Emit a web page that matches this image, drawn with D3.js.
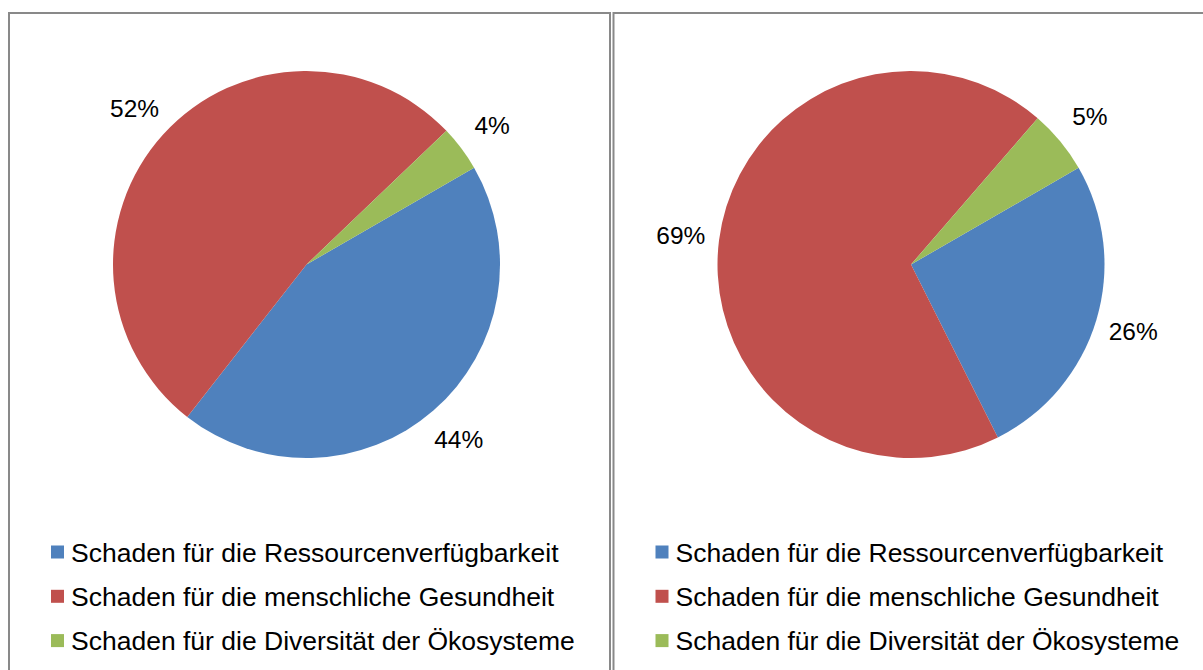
<!DOCTYPE html>
<html>
<head>
<meta charset="utf-8">
<script src="https://cdn.jsdelivr.net/npm/d3@7"></script>
<style>
  body { margin: 0; background: #fff; }
  svg { display: block; font-family: "Liberation Sans", Arial, sans-serif; }
</style>
</head>
<body>
<div class="chart"></div>
<script>
// categories (legend order = slice order)
var categories = ["Schaden für die Ressourcenverfügbarkeit",
                  "Schaden für die menschliche Gesundheit",
                  "Schaden für die Diversität der Ökosysteme"];
var colors = ["#4F81BD", "#C0504D", "#9BBB59"];

// shares in percent
var leftValues  = [43.9, 52.3, 3.8];
var rightValues = [25.9, 68.7, 5.3];

var firstSliceAngle = 60;   // degrees, clockwise from 12 o'clock

var W = 1203, H = 670;

var svg = d3.select(".chart").append("svg")
            .attr("width", W)
            .attr("height", H);

function make_panel(x0, x1, values) {

    // gray frame, runs off the bottom / right like the original
    svg.append("rect")
       .attr("x", x0)
       .attr("y", 13)
       .attr("width", x1 - x0)
       .attr("height", H + 20)
       .attr("fill", "none")
       .attr("stroke", "#898989")
       .attr("stroke-width", 2);

    var cx = x0 + 297.5, cy = 264.5, radius = 193.5;

    var start = firstSliceAngle * Math.PI / 180;
    var pie = d3.pie()
                .sort(null)
                .startAngle(start)
                .endAngle(start + 2 * Math.PI)
                .value(function(d) { return d; });

    var arc = d3.arc().innerRadius(0).outerRadius(radius);
    var labelArc = d3.arc().innerRadius(232).outerRadius(232);

    var total = d3.sum(values);

    var g = svg.append("g")
               .attr("transform", "translate(" + cx + "," + cy + ")");

    var slices = g.selectAll(".slice")
                  .data(pie(values))
                  .enter()
                  .append("g")
                  .attr("class", "slice");

    slices.append("path")
          .attr("d", arc)
          .attr("fill", function(d, i) { return colors[i]; });

    slices.append("text")
          .attr("transform", function(d) { return "translate(" + labelArc.centroid(d) + ")"; })
          .attr("text-anchor", "middle")
          .attr("dy", "0.35em")
          .style("font-size", "24.5px")
          .attr("fill", "#000")
          .text(function(d) { return Math.round(d.value / total * 100) + "%"; });

    // legend
    var legend = svg.append("g")
                    .attr("transform", "translate(" + (x0 + 42) + ",552)");

    var rows = legend.selectAll(".row")
                     .data(categories)
                     .enter()
                     .append("g")
                     .attr("class", "row")
                     .attr("transform", function(d, i) { return "translate(0," + (i * 44.3) + ")"; });

    rows.append("rect")
        .attr("x", 0)
        .attr("y", -6.5)
        .attr("width", 13)
        .attr("height", 13)
        .attr("fill", function(d, i) { return colors[i]; });

    rows.append("text")
        .attr("x", 20)
        .attr("y", 9.5)
        .style("font-size", "26.5px")
        .attr("fill", "#000")
        .text(function(d) { return d; });
}

make_panel(9, 610, leftValues);
make_panel(613.5, W + 20, rightValues);
</script>
</body>
</html>
